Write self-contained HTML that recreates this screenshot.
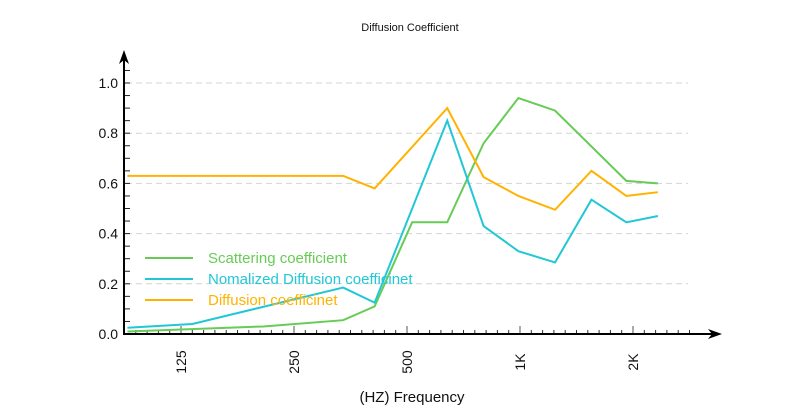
<!DOCTYPE html>
<html><head><meta charset="utf-8"><style>
body{margin:0;background:#fff;}
svg text{font-family:"Liberation Sans","Noto Sans CJK SC",sans-serif;}
</style></head><body>
<svg id="chart" width="800" height="410" xmlns="http://www.w3.org/2000/svg">
<text x="410" y="31" font-size="11" text-anchor="middle" fill="#111">Diffusion Coefficient</text>
<g id="grid"></g>
<g id="axes"></g>
<g id="series"></g>
<text x="412" y="402" font-size="15" text-anchor="middle" fill="#111">(HZ)  Frequency</text>
<g id="legend"></g>
</svg>
<script>
const yTicks=[0,0.2,0.4,0.6,0.8,1.0];
const yTickLabels=["0.0","0.2","0.4","0.6","0.8","1.0"];
const xTicks=[125,250,500,1000,2000];
const xTickLabels=["125","250","500","1K","2K"];
const seriesNames=["Scattering coefficient","Nomalized Diffusion coefficinet","Diffusion coefficinet"];
const scatterFreq=[90,207,338,410,516,640,800,990,1240,1920,2330];
const scatterVal=[0.01,0.03,0.055,0.11,0.445,0.445,0.76,0.94,0.89,0.61,0.60];
const normFreq=[90,134,338,410,640,800,990,1240,1550,1920,2330];
const normVal=[0.025,0.04,0.185,0.125,0.85,0.43,0.33,0.285,0.535,0.445,0.47];
const diffFreq=[90,338,410,640,800,990,1240,1550,1920,2330];
const diffVal=[0.63,0.63,0.58,0.90,0.625,0.55,0.495,0.65,0.55,0.565];
const colors=["#66cc55","#22c7d6","#ffb300"];
const NS="http://www.w3.org/2000/svg";
const X=f=>181+113*Math.log2(f/125);
const Y=v=>334-251*v;
function mk(tag,attrs,parent){const e=document.createElementNS(NS,tag);for(const k in attrs)e.setAttribute(k,attrs[k]);parent.appendChild(e);return e;}
const grid=document.getElementById('grid'),axes=document.getElementById('axes'),ser=document.getElementById('series'),leg=document.getElementById('legend');
yTicks.forEach((v,i)=>{
 if(v>0){const g=mk('line',{x1:126,x2:688,y1:Y(v),y2:Y(v),stroke:'#d4d4d4','stroke-dasharray':'6,4','stroke-width':1},grid);
 
 }
 const t=mk('text',{x:118,y:Y(v)+5,'font-size':14,'text-anchor':'end',fill:'#111'},axes);t.textContent=yTickLabels[i];
 
 
});
for(let v=0.05;v<1.06;v+=0.05){mk('line',{x1:124,x2:130,y1:Y(v),y2:Y(v),stroke:'#222','stroke-width':1},axes);}
for(let i=-5;i<=46;i++){const x=181+i*11.3;if(x<126||x>700)continue;const major=i%10===0;
 mk('line',{x1:x,x2:x,y1:major?326:330,y2:334,stroke:major?'#555':'#333','stroke-width':1},axes);}
mk('line',{x1:124,y1:335,x2:124,y2:58,stroke:'#000','stroke-width':2},axes);
mk('polygon',{points:'124,50 119,64 124,60 129,64',fill:'#000'},axes);
mk('line',{x1:123,y1:334,x2:712,y2:334,stroke:'#000','stroke-width':2},axes);
mk('polygon',{points:'722,334 708,329 712,334 708,339',fill:'#000'},axes);
xTicks.forEach((f,i)=>{const x=X(f);const t=mk('text',{x:x+5,y:362,'font-size':14,'text-anchor':'middle',transform:`rotate(-90 ${x+5} 362)`,fill:'#111'},axes);
 t.textContent=xTickLabels[i];
 
 });
const data=[[scatterFreq,scatterVal],[normFreq,normVal],[diffFreq,diffVal]];
data.forEach((d,s)=>{const pts=d[0].map((f,i)=>X(f)+','+Y(d[1][i])).join(' ');
 const p=mk('polyline',{points:pts,fill:'none',stroke:colors[s],'stroke-width':2},ser);
 
 
 const ly=258+s*21;
 mk('line',{x1:145,x2:193,y1:ly,y2:ly,stroke:colors[s],'stroke-width':2},leg);
 const t=mk('text',{x:208,y:ly+5,'font-size':15,fill:colors[s]},leg);t.textContent=seriesNames[s];
 
 
});
</script>
</body></html>
